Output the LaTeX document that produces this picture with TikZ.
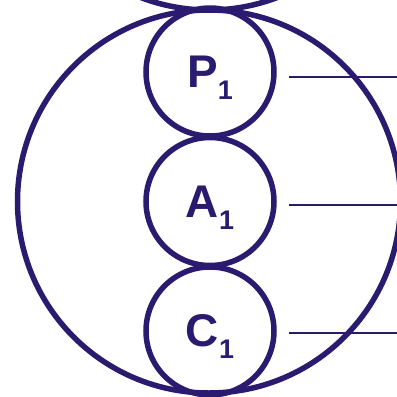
\documentclass[tikz,border=0pt]{standalone}
\usepackage{fontspec}
\setmainfont{Liberation Sans}
\definecolor{navy}{RGB}{42,27,112}
\newcommand{\lbl}[1]{\fontsize{46}{46}\selectfont\bfseries\color{navy}#1\smash{\raisebox{-12bp}{\fontsize{27}{27}\selectfont 1}}}
\begin{document}
\begin{tikzpicture}[x=1bp,y=-1bp,
  ring/.style={draw=navy,line width=5.5bp,circle,inner sep=0pt,minimum size=128bp},
  bigring/.style={draw=navy,line width=5.5bp,circle,inner sep=0pt,minimum size=383bp},
  lead/.style={draw=navy,line width=2bp}]
\useasboundingbox (0,0) rectangle (397,397);
\clip (0,0) rectangle (397,397);
\node[bigring] (big) at (209,201.5) {};
\node[bigring] (top) at (209,-181.5) {};
\node[ring] (P) at (210,72) {\lbl{P}};
\node[ring] (A) at (210,201.5) {\lbl{A}};
\node[ring] (C) at (210,331) {\lbl{C}};
\coordinate (pl) at (289,77);
\coordinate (pr) at (397,77);
\coordinate (al) at (289,204.5);
\coordinate (ar) at (397,204.5);
\coordinate (cl) at (289,332.5);
\coordinate (cr) at (397,332.5);
\draw[lead] (pl) -- (pr);
\draw[lead] (al) -- (ar);
\draw[lead] (cl) -- (cr);
\end{tikzpicture}
\end{document}
